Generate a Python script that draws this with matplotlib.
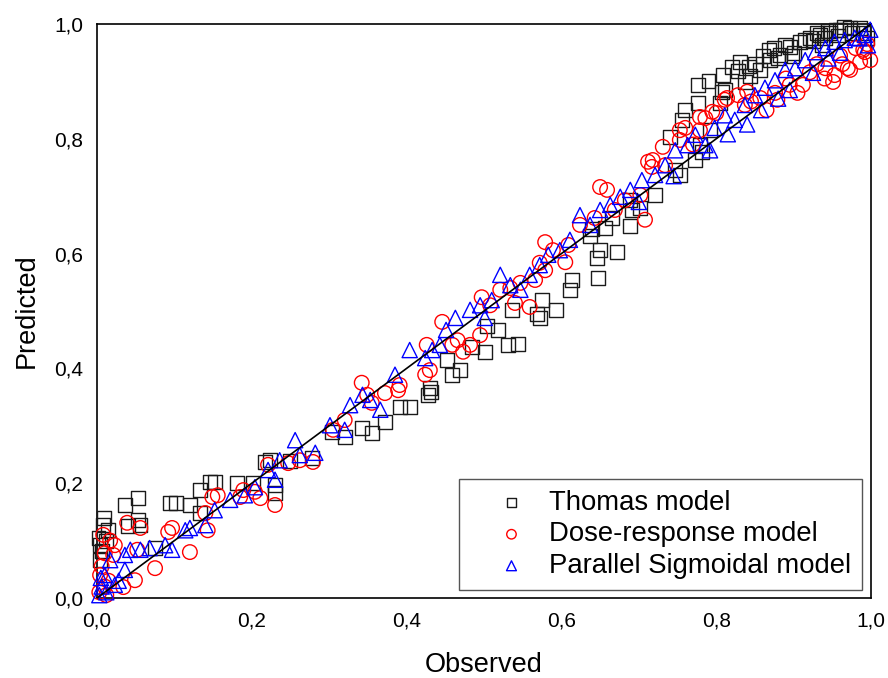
import matplotlib
matplotlib.use("Agg")
import matplotlib.pyplot as plt

plt.rcParams['font.family'] = ['Liberation Sans', 'DejaVu Sans']

# Thomas model (observed, predicted)
thomas_obs = [0.004, 0.008, 0.009, 0.014, 0.004, 0.002, 0.006, 0.012, 0.036, 0.053, 0.053, 0.056, 0.040,
              0.075, 0.094, 0.102, 0.120, 0.133, 0.146, 0.152, 0.133, 0.181, 0.202, 0.217, 0.224,
              0.230, 0.230, 0.249, 0.278, 0.304, 0.320, 0.342, 0.355, 0.372, 0.391, 0.404, 0.428,
              0.432, 0.430, 0.452, 0.459, 0.469, 0.484, 0.501, 0.504, 0.518, 0.531, 0.544, 0.536,
              0.568, 0.572, 0.575, 0.593, 0.611, 0.614, 0.647, 0.646, 0.650, 0.672, 0.637, 0.640,
              0.656, 0.665, 0.689, 0.691, 0.702, 0.689, 0.721, 0.747, 0.753, 0.773, 0.782, 0.779,
              0.792, 0.776, 0.805, 0.776, 0.811, 0.837, 0.844, 0.857, 0.870, 0.882, 0.889, 0.908,
              0.921, 0.934, 0.947, 0.960, 0.973, 0.986, 0.937, 0.809, 0.831, 0.895, 0.930, 0.957,
              0.756, 0.740, 0.807, 0.760, 0.790, 0.820, 0.850, 0.868, 0.900, 0.915, 0.940, 0.955,
              0.975, 0.990, 0.880, 0.860, 0.995, 0.965, 0.925, 0.945, 0.898, 0.875, 0.828, 0.842]
thomas_pred = [0.092, 0.127, 0.139, 0.118, 0.066, 0.105, 0.082, 0.100, 0.162, 0.174, 0.136, 0.127, 0.125,
               0.087, 0.166, 0.166, 0.162, 0.148, 0.202, 0.202, 0.188, 0.200, 0.200, 0.237, 0.240,
               0.197, 0.183, 0.239, 0.244, 0.289, 0.280, 0.296, 0.287, 0.307, 0.333, 0.333, 0.354,
               0.359, 0.366, 0.415, 0.389, 0.397, 0.437, 0.429, 0.474, 0.467, 0.441, 0.443, 0.502,
               0.495, 0.488, 0.519, 0.502, 0.537, 0.554, 0.557, 0.592, 0.606, 0.603, 0.631, 0.643,
               0.645, 0.662, 0.648, 0.676, 0.679, 0.693, 0.702, 0.746, 0.737, 0.763, 0.777, 0.789,
               0.815, 0.862, 0.862, 0.894, 0.885, 0.899, 0.909, 0.920, 0.937, 0.946, 0.963, 0.969,
               0.976, 0.981, 0.984, 0.990, 0.993, 0.993, 0.963, 0.911, 0.934, 0.960, 0.984, 0.980,
               0.833, 0.803, 0.881, 0.850, 0.900, 0.925, 0.930, 0.955, 0.950, 0.972, 0.975, 0.990,
               0.985, 0.985, 0.940, 0.945, 0.975, 0.995, 0.970, 0.988, 0.945, 0.958, 0.918, 0.926]

# Dose-response model
dose_obs = [0.008, 0.017, 0.023, 0.004, 0.010, 0.010, 0.021, 0.039, 0.056, 0.052, 0.075, 0.049,
            0.034, 0.092, 0.097, 0.120, 0.143, 0.149, 0.156, 0.140, 0.003, 0.006, 0.015, 0.012,
            0.185, 0.189, 0.204, 0.211, 0.230, 0.221, 0.247, 0.262, 0.279, 0.305, 0.320, 0.342,
            0.349, 0.355, 0.372, 0.389, 0.391, 0.424, 0.430, 0.426, 0.446, 0.459, 0.466, 0.473,
            0.482, 0.495, 0.497, 0.508, 0.521, 0.534, 0.547, 0.540, 0.559, 0.566, 0.572, 0.579,
            0.579, 0.589, 0.605, 0.609, 0.624, 0.643, 0.650, 0.659, 0.669, 0.682, 0.702, 0.708,
            0.712, 0.717, 0.734, 0.753, 0.760, 0.779, 0.786, 0.795, 0.811, 0.828, 0.837, 0.857,
            0.876, 0.895, 0.921, 0.941, 0.953, 0.970, 0.986, 0.999, 0.992, 0.814, 0.779, 0.753,
            0.731, 0.718, 0.840, 0.879, 0.912, 0.951, 0.973, 0.963, 0.940, 0.990, 0.905, 0.865,
            0.960, 0.995, 0.930, 0.980, 0.890, 0.845, 0.800, 0.770]
dose_pred = [0.110, 0.100, 0.092, 0.040, 0.020, 0.078, 0.075, 0.131, 0.122, 0.084, 0.052, 0.031,
             0.019, 0.115, 0.122, 0.080, 0.118, 0.176, 0.179, 0.148, 0.010, 0.055, 0.030, 0.005,
             0.176, 0.188, 0.185, 0.174, 0.162, 0.232, 0.235, 0.240, 0.237, 0.293, 0.310, 0.375,
             0.354, 0.340, 0.357, 0.362, 0.371, 0.389, 0.397, 0.441, 0.481, 0.441, 0.449, 0.429,
             0.441, 0.458, 0.524, 0.510, 0.537, 0.540, 0.549, 0.514, 0.507, 0.554, 0.584, 0.571,
             0.620, 0.606, 0.585, 0.615, 0.650, 0.662, 0.716, 0.711, 0.676, 0.693, 0.702, 0.659,
             0.760, 0.751, 0.754, 0.798, 0.819, 0.815, 0.836, 0.847, 0.868, 0.876, 0.859, 0.871,
             0.880, 0.894, 0.916, 0.923, 0.911, 0.923, 0.934, 0.937, 0.951, 0.871, 0.838, 0.815,
             0.786, 0.763, 0.882, 0.868, 0.894, 0.899, 0.920, 0.930, 0.905, 0.955, 0.880, 0.850,
             0.945, 0.965, 0.930, 0.958, 0.905, 0.865, 0.845, 0.790]

# Parallel Sigmoidal model
sig_obs = [0.010, 0.023, 0.017, 0.036, 0.043, 0.056, 0.036, 0.068, 0.088, 0.097, 0.114, 0.120,
           0.140, 0.152, 0.172, 0.191, 0.204, 0.221, 0.230, 0.236, 0.256, 0.262, 0.282, 0.301,
           0.320, 0.327, 0.343, 0.353, 0.366, 0.385, 0.404, 0.424, 0.433, 0.443, 0.451, 0.463,
           0.482, 0.495, 0.501, 0.510, 0.521, 0.534, 0.547, 0.559, 0.572, 0.583, 0.598, 0.611,
           0.624, 0.637, 0.650, 0.663, 0.676, 0.689, 0.704, 0.721, 0.734, 0.747, 0.763, 0.773,
           0.786, 0.798, 0.811, 0.824, 0.837, 0.850, 0.863, 0.876, 0.889, 0.902, 0.915, 0.928,
           0.941, 0.953, 0.966, 0.979, 0.992, 0.996, 0.999, 0.003, 0.006, 0.012, 0.005, 0.028,
           0.700, 0.745, 0.792, 0.840, 0.880, 0.925, 0.960, 0.985, 0.815, 0.858, 0.895, 0.945]
sig_pred = [0.040, 0.023, 0.066, 0.075, 0.084, 0.084, 0.049, 0.087, 0.092, 0.084, 0.118, 0.122,
            0.127, 0.153, 0.171, 0.179, 0.193, 0.223, 0.206, 0.240, 0.275, 0.249, 0.253, 0.301,
            0.293, 0.336, 0.354, 0.345, 0.328, 0.389, 0.432, 0.418, 0.432, 0.441, 0.467, 0.488,
            0.502, 0.510, 0.488, 0.519, 0.563, 0.545, 0.537, 0.563, 0.580, 0.598, 0.606, 0.624,
            0.667, 0.650, 0.676, 0.685, 0.699, 0.711, 0.728, 0.737, 0.754, 0.780, 0.789, 0.807,
            0.789, 0.819, 0.841, 0.833, 0.859, 0.876, 0.889, 0.902, 0.920, 0.923, 0.937, 0.951,
            0.958, 0.969, 0.972, 0.976, 0.981, 0.963, 0.990, 0.005, 0.020, 0.010, 0.035, 0.030,
            0.690, 0.735, 0.780, 0.825, 0.870, 0.915, 0.950, 0.975, 0.808, 0.850, 0.885, 0.940]

ticks = [0.0, 0.2, 0.4, 0.6, 0.8, 1.0]
tick_labels = ["0,0", "0,2", "0,4", "0,6", "0,8", "1,0"]

fig = plt.figure(figsize=(8.88, 6.78), dpi=100)
ax = fig.add_axes([97/888, 80/678, 774/888, 574/678])

ms = 100
ax.scatter(thomas_obs, thomas_pred, s=ms, marker='s', facecolors='none',
           edgecolors='#1a1a1a', linewidths=1.0, label='Thomas model', clip_on=False, zorder=3)
ax.scatter(dose_obs, dose_pred, s=ms * 1.1, marker='o', facecolors='none',
           edgecolors='red', linewidths=1.0, label='Dose-response model', clip_on=False, zorder=4)
ax.scatter(sig_obs, sig_pred, s=ms * 1.2, marker='^', facecolors='none',
           edgecolors='blue', linewidths=1.0, label='Parallel Sigmoidal model', clip_on=False, zorder=5)
ax.plot([0, 1], [0, 1], color='black', linewidth=1.2, zorder=6)

ax.set_xlim(0, 1)
ax.set_ylim(0, 1)
ax.set_xticks(ticks)
ax.set_xticklabels(tick_labels)
ax.set_yticks(ticks)
ax.set_yticklabels(tick_labels)
ax.tick_params(direction='in', length=0, labelsize=15)
ax.tick_params(axis='y', pad=10)
ax.tick_params(axis='x', pad=10)
for sp in ax.spines.values():
    sp.set_linewidth(1.2)

ax.set_xlabel('Observed', fontsize=19.5, labelpad=15)
ax.set_ylabel('Predicted', fontsize=19.5, labelpad=10)

leg = ax.legend(loc='lower right', bbox_to_anchor=(0.988, 0.014), fontsize=19.8,
                frameon=True, fancybox=False, edgecolor='#555555', framealpha=1,
                markerscale=0.65, handletextpad=-0.15, borderpad=0.4, labelspacing=0.2,
                handlelength=3.0, borderaxespad=0.0)
leg.get_frame().set_linewidth(1.0)
leg.set_zorder(10)

fig.savefig('out.png', dpi=100)
